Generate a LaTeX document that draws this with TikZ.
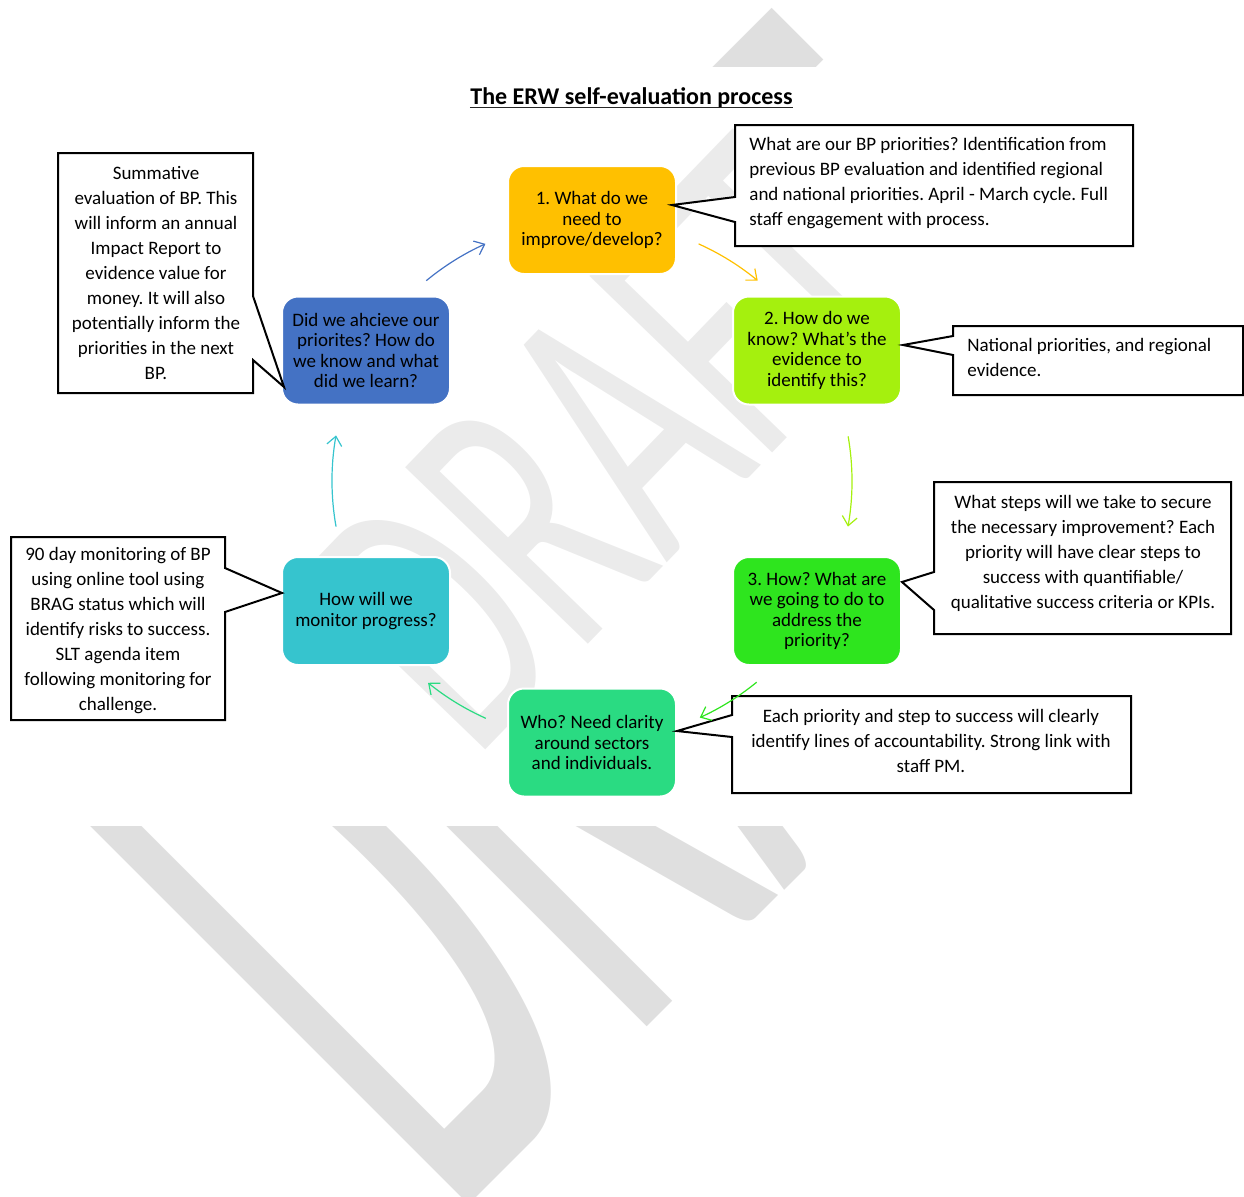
\documentclass[tikz,border=0pt]{standalone}
\usepackage{fontspec}
\setmainfont{Carlito}
\usetikzlibrary{arrows.meta}
\frenchspacing
\definecolor{cGold}{HTML}{FFC000}
\definecolor{cLime}{HTML}{A5F00E}
\definecolor{cGreen}{HTML}{2EE51E}
\definecolor{cSea}{HTML}{2ADB82}
\definecolor{cCyan}{HTML}{36C4CE}
\definecolor{cBlue}{HTML}{4472C4}
\definecolor{wmDark}{HTML}{DFDFDF}
\definecolor{wmLight}{HTML}{EBEBEB}
\newcommand{\apos}{{\char"0027}}
\begin{document}
\begin{tikzpicture}[x=0.5pt,y=-0.5pt,
  stage/.style={rounded corners=8pt, minimum width=84pt, minimum height=54pt,
    draw=white, line width=1pt, align=center, inner sep=0pt, text=black,
    font=\fontsize{9.5}{10.25}\selectfont},
  note/.style={inner sep=0pt, text=black, font=\fontsize{9.5}{12.5}\selectfont},
  callout/.style={draw=black, line width=1pt, fill=white, line join=miter},
  cyc/.style={line width=0.6pt, -{Straight Barb[length=4.5pt,width=7.5pt]}},
  wm/.style={inner sep=0pt, anchor=center}
]
\useasboundingbox (0,0) rectangle (1244,1196);

% ---------- watermark ----------
\begin{scope}
  \clip (0,0) rectangle (1244,66) (0,826) rectangle (1244,1196);
  \node[wm, text=wmDark, rotate=45, font=\fontsize{493}{493}\selectfont] (wmB) at (612.5,614.5) {\scalebox{0.413}[1]{DRAFT}};
\end{scope}
\begin{scope}
  \clip (0,66) rectangle (1244,826);
  \node[wm, text=wmLight, rotate=46, font=\fontsize{198}{198}\selectfont] (wmA) at (605,444) {\scalebox{0.6}[1]{DRAFT}};
\end{scope}

% ---------- title ----------
\node[inner sep=0pt, font=\fontsize{12}{14}\selectfont\bfseries] (title) at (631.5,97.5) {The ERW self-evaluation process};
\draw[line width=0.75pt, black!85] ([yshift=-1.8pt]title.base west) -- ([yshift=-1.8pt]title.base east);

% ---------- stage nodes ----------
\node[stage, fill=cGold]  (n1) at (592,220)   {1. What do we\\need to\\improve/develop?};
\node[stage, fill=cLime]  (n2) at (817,350.5) {2. How do we\\know? What\apos s the\\evidence to\\identify this?};
\node[stage, fill=cGreen] (n3) at (817,611)   {3. How? What are\\we going to do to\\address the\\priority?};
\node[stage, fill=cSea]   (n4) at (592,742.5) {Who? Need clarity\\around sectors\\and individuals.};
\node[stage, fill=cCyan]  (n5) at (366,611)   {How will we\\monitor progress?};
\node[stage, fill=cBlue]  (n6) at (366,350.5) {Did we ahcieve our\\priorites? How do\\we know and what\\did we learn?};

% ---------- callout pointer tips ----------
\coordinate (tip1) at (672,205);
\coordinate (tip2) at (903,345);
\coordinate (tip3) at (902,582);
\coordinate (tip4) at (677,731);
\coordinate (tip5) at (282,593);
\coordinate (tip6) at (284,387);

% ---------- callout outlines ----------
\draw[callout] (735,125) -- (1133,125) -- (1133,246) -- (735,246) -- (735,222) -- (tip1) -- (735,197) -- cycle;
\draw[callout] (953,326) -- (1243,326) -- (1243,395) -- (953,395) -- (953,355) -- (tip2) -- (953,336) -- cycle;
\draw[callout] (934,482) -- (1231,482) -- (1231,634) -- (934,634) -- (934,610) -- (tip3) -- (934,572) -- cycle;
\draw[callout] (732,696) -- (1131,696) -- (1131,793) -- (732,793) -- (732,737) -- (tip4) -- (732,715) -- cycle;
\draw[callout] (11,537) -- (225,537) -- (225,568) -- (tip5) -- (225,612) -- (225,720) -- (11,720) -- cycle;
\draw[callout] (58,153) -- (253,153) -- (253,296) -- (tip6) -- (253,360) -- (253,393) -- (58,393) -- cycle;

% ---------- callout texts ----------
\node[note, anchor=west, align=left] (t1) at (749,183.5) {What are our BP priorities? Identification from\\previous BP evaluation and identified regional\\and national priorities. April - March cycle. Full\\staff engagement with process.};
\node[note, anchor=west, align=left] (t2) at (967,357.5) {National priorities, and regional\\evidence.};
\node[note, align=center] (t3) at (1083,553) {What steps will we take to secure\\the necessary improvement? Each\\priority will have clear steps to\\success with quantifiable/\\qualitative success criteria or KPIs.};
\node[note, align=center] (t4) at (931,741) {Each priority and step to success will clearly\\identify lines of accountability. Strong link with\\staff PM.};
\node[note, align=center] (t5) at (118,631) {90 day monitoring of BP\\using online tool using\\BRAG status which will\\identify risks to success.\\SLT agenda item\\following monitoring for\\challenge.};
\node[note, align=center] (t6) at (156,273) {Summative\\evaluation of BP. This\\will inform an annual\\Impact Report to\\evidence value for\\money. It will also\\potentially inform the\\priorities in the next\\BP.};

% ---------- cycle arrows ----------
\coordinate (O) at (592,481);
\draw[cyc, cBlue]  (O) ++(-129.6:260) arc[start angle=-129.6, end angle=-114.2, radius=260];
\draw[cyc, cGold]  (O) ++(-65.8:260)  arc[start angle=-65.8,  end angle=-50.4,  radius=260];
\draw[cyc, cLime]  (O) ++(-9.9:260)   arc[start angle=-9.9,   end angle=10.1,   radius=260];
\draw[cyc, cGreen] (O) ++(50.7:260)   arc[start angle=50.7,   end angle=65.5,   radius=260];
\draw[cyc, cSea]   (O) ++(114.1:260)  arc[start angle=114.1,  end angle=129.1,  radius=260];
\draw[cyc, cCyan]  (O) ++(169.9:260)  arc[start angle=169.9,  end angle=190.1,  radius=260];
\end{tikzpicture}
\end{document}
